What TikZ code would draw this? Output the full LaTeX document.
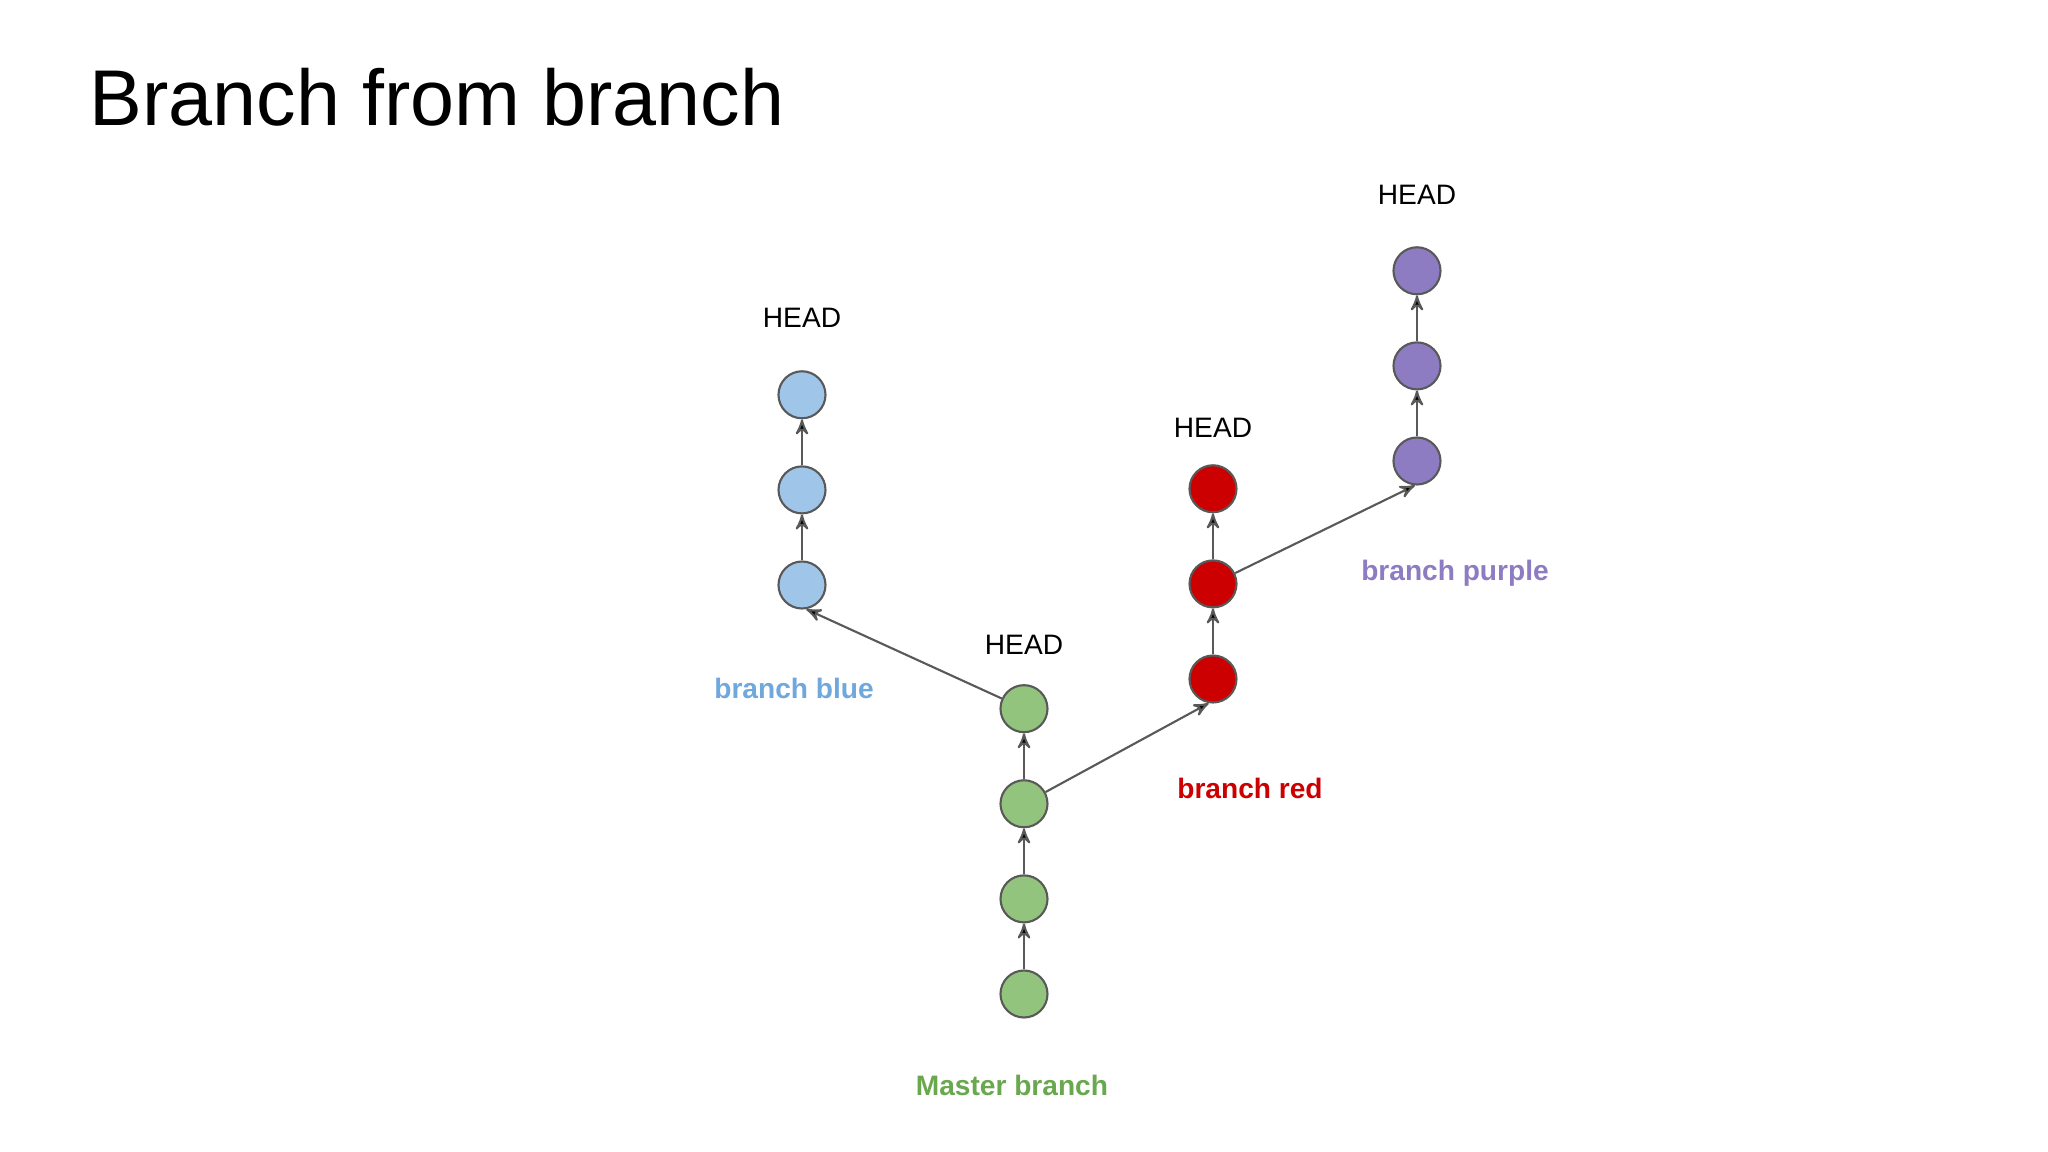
\documentclass[tikz,border=0pt]{standalone}
\usepackage{fontspec}
\setmainfont{Liberation Sans}
\usetikzlibrary{arrows,positioning}
\definecolor{edgegray}{HTML}{595959}
\definecolor{mastergreen}{HTML}{93C47D}
\definecolor{bluefill}{HTML}{9FC5E8}
\definecolor{redfill}{HTML}{CC0000}
\definecolor{purplefill}{HTML}{8E7CC3}
\definecolor{mastertext}{HTML}{6AA84F}
\definecolor{bluetext}{HTML}{6FA8DC}
\tikzstyle{commit}=[circle,draw=edgegray,line width=0.6pt,minimum size=0.47cm,inner sep=0pt]
\tikzstyle{post}=[->,>=stealth',draw=edgegray,line width=0.6pt]
\tikzstyle{head}=[inner sep=0pt,font=\fontsize{8}{10}\selectfont]
\tikzstyle{branchname}=[inner sep=0pt,font=\fontsize{8}{10}\selectfont\bfseries]

\begin{document}
\begin{tikzpicture}[node distance=0.46cm]

\fill[white] (0,0) rectangle (20.48,-11.52);
\useasboundingbox (0,0) rectangle (20.48,-11.52);

\node[anchor=base west,inner sep=0pt,font=\fontsize{22.5}{27}\selectfont] (title) at (0.89,-1.26) {Branch from branch};

% master
\node[commit,fill=mastergreen] (M1) at (10.24,-9.94) {};
\node[commit,fill=mastergreen] (M2) [above=of M1] {};
\node[commit,fill=mastergreen] (M3) [above=of M2] {};
\node[commit,fill=mastergreen] (M4) [above=of M3] {};

% blue
\node[commit,fill=bluefill] (B1) at (8.02,-5.85) {};
\node[commit,fill=bluefill] (B2) [above=of B1] {};
\node[commit,fill=bluefill] (B3) [above=of B2] {};

% red
\node[commit,fill=redfill] (R1) at (12.13,-6.79) {};
\node[commit,fill=redfill] (R2) [above=of R1] {};
\node[commit,fill=redfill] (R3) [above=of R2] {};

% purple
\node[commit,fill=purplefill] (P1) at (14.17,-4.61) {};
\node[commit,fill=purplefill] (P2) [above=of P1] {};
\node[commit,fill=purplefill] (P3) [above=of P2] {};

\node[head] (hM) [above=0.29cm of M4] {HEAD};
\node[head] (hB) [above=0.42cm of B3] {HEAD};
\node[head] (hR) [above=0.26cm of R3] {HEAD};
\node[head] (hP) [above=0.41cm of P3] {HEAD};

\node[branchname,text=mastertext] (lM) at (10.12,-10.85) {Master branch};
\node[branchname,text=bluetext] (lB) at (7.94,-6.88) {branch blue};
\node[branchname,text=redfill] (lR) at (12.50,-7.88) {branch red};
\node[branchname,text=purplefill] (lP) at (14.55,-5.73) {branch purple};

\path[post] (M1) edge (M2)
            (M2) edge (M3)
            (M3) edge (M4)
            (M4) edge (B1.-80)
            (M3) edge (R1.-100);

\path[post] (B1) edge (B2)
            (B2) edge (B3);

\path[post] (R1) edge (R2)
            (R2) edge (R3)
            (R2) edge (P1.-95);

\path[post] (P1) edge (P2)
            (P2) edge (P3);

\end{tikzpicture}
\end{document}
